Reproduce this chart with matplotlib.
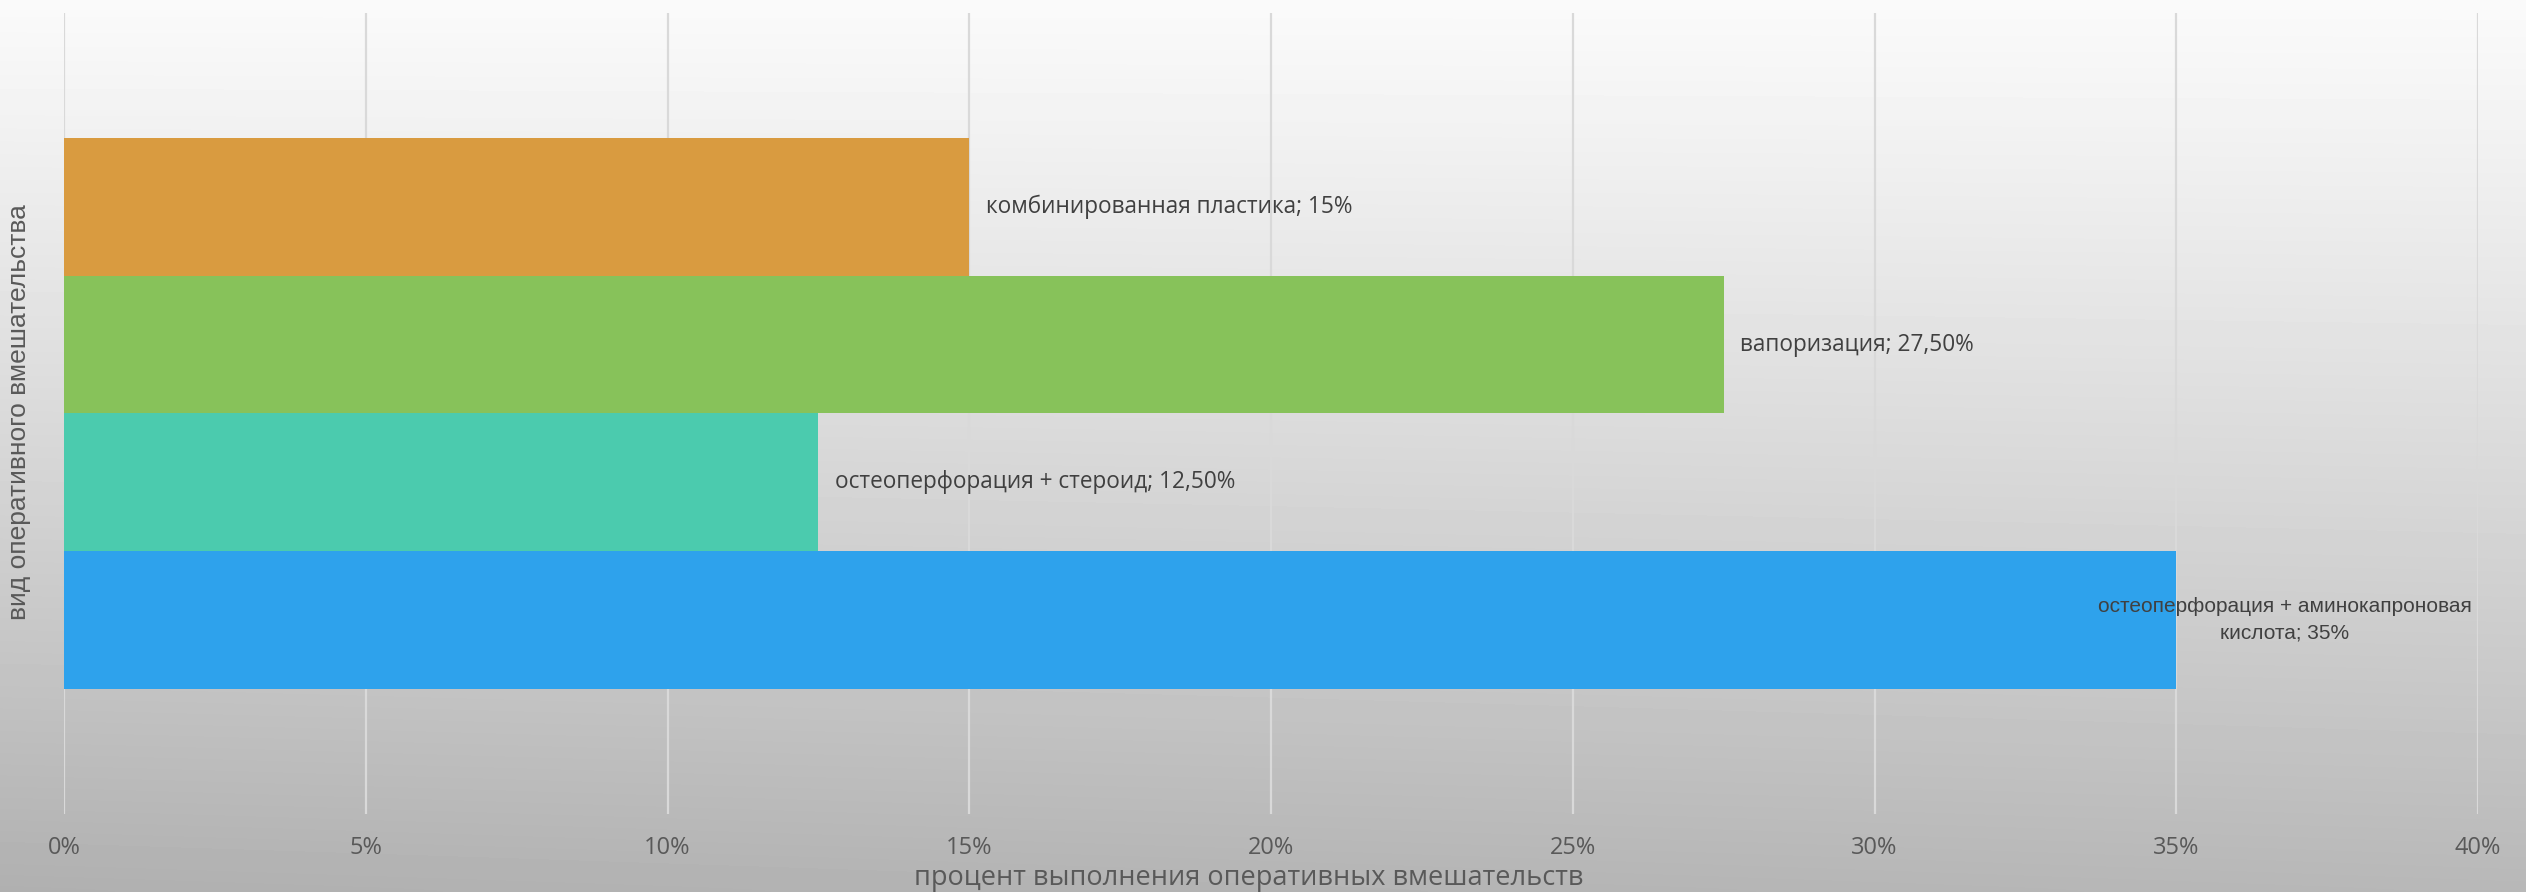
import matplotlib
matplotlib.use("Agg")
import matplotlib.pyplot as plt
import numpy as np
from matplotlib.ticker import MultipleLocator, FuncFormatter

# bottom -> top
names = [
    "остеоперфорация + аминокапроновая\nкислота",
    "остеоперфорация + стероид",
    "вапоризация",
    "комбинированная пластика",
]
values = [35, 12.5, 27.5, 15]
colors = ["#2EA2EC", "#4BCBAE", "#87C25A", "#D99B40"]

x_ticks = [0, 5, 10, 15, 20, 25, 30, 35, 40]
x_title = "процент выполнения оперативных вмешательств"
y_title = "вид оперативного вмешательства"


def pct(v):
    if float(v).is_integer():
        return f"{int(v)}%"
    return f"{v:.2f}%".replace(".", ",")


W, H = 2526, 892
fig = plt.figure(figsize=(W / 100, H / 100), dpi=100)

# background: light at the top, grey towards the bottom
bg = fig.add_axes([0, 0, 1, 1], zorder=-10)
yy, xx = np.mgrid[0:1:200j, 0:1:400j]
shade = 0.98 - 0.26 * yy ** 1.1 - 0.03 * (1 - xx) * yy
bg.imshow(shade, cmap="gray", vmin=0, vmax=1, aspect="auto",
          extent=[0, 1, 1, 0], interpolation="bicubic")
bg.axis("off")

ax = fig.add_axes([64 / W, 1 - 814 / H, (2478 - 64) / W, (814 - 13) / H])
ax.patch.set_alpha(0)

pos = np.arange(len(values))
ax.barh(pos, values, height=1.0, color=colors, zorder=3)

ax.set_xlim(x_ticks[0], x_ticks[-1])
ax.set_ylim(-0.5 - 0.91, len(values) - 0.5 + 0.91)
ax.set_xticks(x_ticks)
ax.xaxis.set_major_formatter(FuncFormatter(lambda v, _: f"{int(round(v))}%"))
ax.grid(axis="x", color="#D9D9D9", linewidth=1.6, zorder=0)
ax.set_yticks([])
for s in ax.spines.values():
    s.set_visible(False)
ax.tick_params(axis="x", length=0, pad=16, labelsize=17, labelcolor="#595959")
for t in ax.get_xticklabels():
    t.set_family(["Open Sans", "DejaVu Sans"])

for p, v, n in zip(pos, values, names):
    label = f"{n}; {pct(v)}"
    if "\n" in n:
        ax.annotate(label, (v, p), xytext=(78, 0), textcoords="offset points",
                    ha="center", va="center", fontsize=15, color="#404040",
                    family=["Liberation Sans", "DejaVu Sans"], linespacing=1.5,
                    zorder=4)
    else:
        ax.annotate(label, (v, p), xytext=(12, 0), textcoords="offset points",
                    ha="left", va="center", fontsize=16.3, color="#404040",
                    family=["Open Sans", "DejaVu Sans"], zorder=4)

fig.text(1249 / W, 1 - 878 / H, x_title, ha="center", va="center", fontsize=19.5,
         color="#595959", family=["Open Sans", "DejaVu Sans"])
fig.text(19 / W, 1 - 412 / H, y_title, ha="center", va="center", rotation=90,
         fontsize=19, color="#595959", family=["Liberation Sans", "DejaVu Sans"])

fig.savefig("out.png", dpi=100)
